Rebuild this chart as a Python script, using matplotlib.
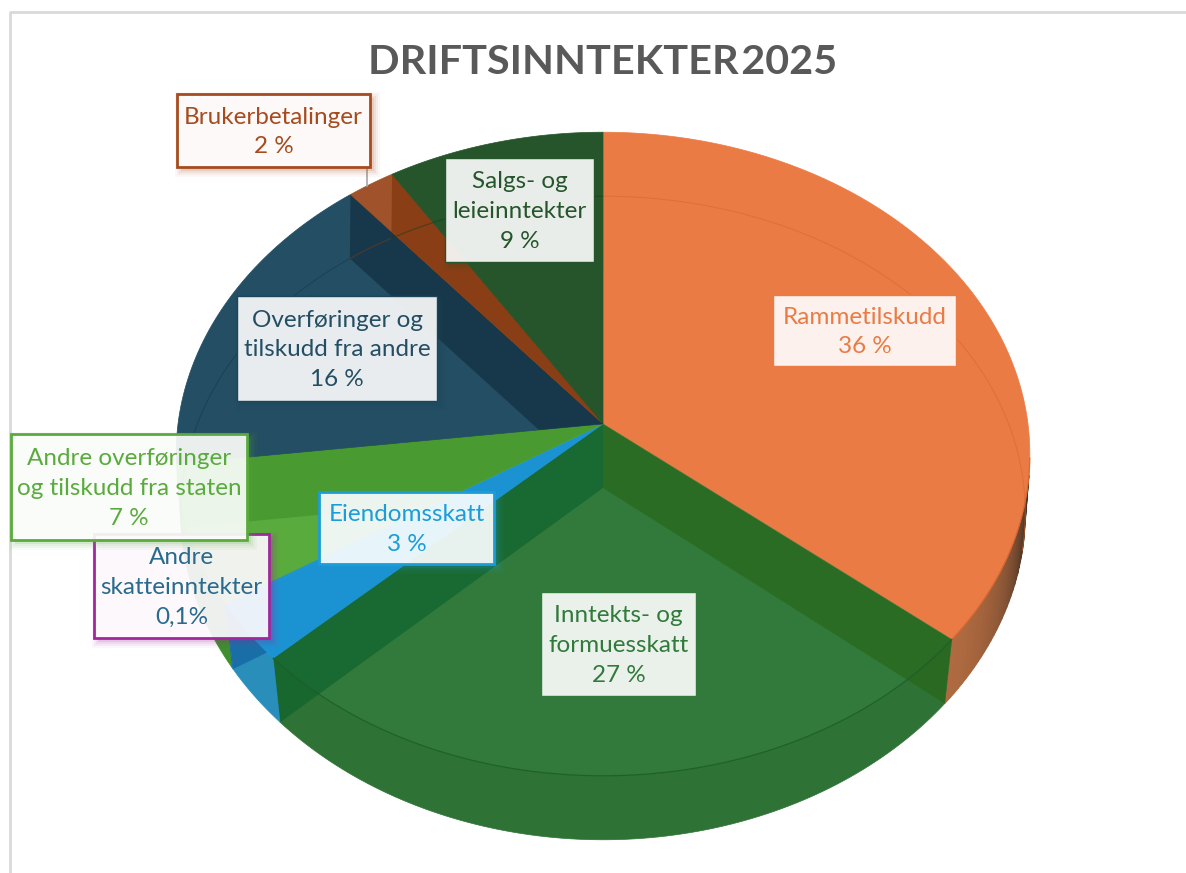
import numpy as np
import matplotlib
matplotlib.use("Agg")
import matplotlib.pyplot as plt
from matplotlib.patches import Polygon, Rectangle
from matplotlib.colors import to_rgb

# ---------- data ----------
title = "DRIFTSINNTEKTER\u200a2025"
categories = ["Rammetilskudd", "Inntekts- og\nformuesskatt", "Eiendomsskatt",
              "Andre\nskatteinntekter", "Andre overføringer\nog tilskudd fra staten",
              "Overføringer og\ntilskudd fra andre", "Brukerbetalinger",
              "Salgs- og\nleieinntekter"]
values = [36, 27, 3, 0.1, 7, 16, 2, 9]
value_labels = ["36\u202f%", "27\u202f%", "3\u202f%", "0,1%", "7\u202f%", "16\u202f%", "2\u202f%", "9\u202f%"]

# ---------- style ----------
top_colors = ["#EB7B45", "#317A3B", "#1B93D2", "#1B93D2", "#5AAB3D", "#234E63", "#A0532B", "#26552B"]
side_colors = ["#B06A40", "#2E7335", "#2A8EBB", "#2A8EBB", "#3F8F2E", "#1F4658", "#8F4A26", "#224C26"]
wall_start = ["#EB7B45", "#25600F", "#0C5095", "#0C5095", "#3A8D27", "#0B2433", "#762B00", "#224C26"]
wall_end = ["#EB7B45", "#035C2B", "#0C5095", "#0C5095", "#3A8D27", "#0B2433", "#762B00", "#224C26"]
rim_colors = ["#D9652F", "#1C5E28", "#17709F", "#17709F", "#3A8D27", "#153A4C", "#7A3A17", "#173D1C"]
text_colors = ["#EB7B45", "#317A3B", "#1B9DD9", "#2A6A8E", "#5AAB3D", "#234E63", "#A64B1E", "#26552B"]
box_edges = ["#EB7B45", "#317A3B", "#1B9DD9", "#A0289C", "#5AAB3D", "#1F4658", "#A64B1E", "#26552B"]
edge_widths = [1, 1, 2, 2, 2, 1, 2, 1]
boxes = [(773, 295, 956, 366), (541, 592, 696, 696), (319, 492, 494, 564),
         (94, 534, 269, 638), (11, 434, 247, 540), (237, 296, 437, 401),
         (177, 94, 370, 167), (445, 158, 594, 262)]
box_order = [0, 1, 2, 3, 4, 5, 6, 7]
FONT = "Lato"
FS = 17.5

# projection of the tilted disc onto the picture
CX, CY_TOP, CY_BOT = 603.0, 424.0, 488.0
A, B_TOP, B_BOT, K_Y, K_X_BOT = 319.0, 425.0, 421.0, 0.0932, 0.077


def rim_top(t):
    u, v = np.sin(t), np.cos(t)
    d = 1 + K_Y * v
    return CX + B_TOP * u / d, CY_TOP - A * v / d


def rim_bot(t):
    u, v = np.sin(t), np.cos(t)
    return CX + B_BOT * u / (1 + K_X_BOT * v), CY_BOT - A * v / (1 + K_Y * v)


fig = plt.figure(figsize=(11.86, 8.73), dpi=100)
ax = fig.add_axes([0, 0, 1, 1])
ax.set_xlim(0, 1186)
ax.set_ylim(873, 0)
ax.axis("off")

# frame of the screenshot
ax.plot([10, 10, 1186], [873, 12, 12], color="#D9D9D9", lw=2, zorder=0)

shares = np.array(values, dtype=float) / np.sum(values)
edges = np.concatenate([[0], np.cumsum(shares)]) * 2 * np.pi
dark = np.array(to_rgb("#3A2A20"))

# outer side strips (only the part that faces the viewer)
strips = {}
for i in range(len(values)):
    ts = np.linspace(edges[i], edges[i + 1], max(3, int(shares[i] * 360)))
    ts = ts[np.cos(ts) < -0.15]
    if len(ts) < 2:
        continue
    xt, yt = rim_top(ts)
    xb, yb = rim_bot(ts)
    strip_pts = np.c_[np.r_[xt, xb[::-1]], np.r_[yt, yb[::-1]]]
    strips[i] = strip_pts
    if i == 0:  # the orange wall fades to dark towards the right
        for j in range(len(ts) - 1):
            f = np.clip((np.cos(ts[j:j + 2].mean()) + 0.64) / 0.49, 0, 1)
            col = np.array(to_rgb(side_colors[i])) * (1 - f ** 1.5) + dark * f ** 1.5
            ax.add_patch(Polygon(np.c_[np.r_[xt[j:j + 2], xb[j:j + 2][::-1]],
                                       np.r_[yt[j:j + 2], yb[j:j + 2][::-1]]], closed=True,
                                 facecolor=col, edgecolor=col, lw=0.8, zorder=2))
    else:
        ax.add_patch(Polygon(strip_pts, closed=True, facecolor=side_colors[i],
                             edgecolor=side_colors[i], lw=0.5, zorder=2))

# top faces
outlines = []
for i in range(len(values)):
    ts = np.linspace(edges[i], edges[i + 1], max(3, int(shares[i] * 360)))
    xt, yt = rim_top(ts)
    xb, yb = rim_bot(ts)
    ax.add_patch(Polygon(np.c_[np.r_[CX, xt], np.r_[CY_TOP, yt]], closed=True,
                         facecolor=top_colors[i], edgecolor=top_colors[i], lw=0.5, zorder=3))
    # invisible outline used to clip the see-through radial walls
    if i in (2, 3):  # the blue wall only shows where it crosses the outer strip
        pts = strips[i]
    elif i in (1, 4):
        pts = [(CX, CY_TOP), (xt[0], yt[0])] + list(zip(xb, yb)) + [(xt[-1], yt[-1])]
    else:
        pts = [(CX, CY_TOP)] + list(zip(xt, yt))
    outline = Polygon(pts, closed=True, facecolor="none", edgecolor="none", zorder=1)
    ax.add_patch(outline)
    outlines.append(outline)

# see-through radial walls
for i in range(len(values)):
    for edge, col in ((edges[i], wall_start[i]), (edges[i + 1], wall_end[i])):
        x1, y1 = rim_top(edge)
        x2, y2 = rim_bot(edge)
        q = Polygon([(CX, CY_TOP), (x1, y1), (x2, y2), (CX, CY_BOT)], closed=True,
                    facecolor=col, edgecolor="none", alpha=0.5, zorder=4)
        ax.add_patch(q)
        q.set_clip_path(outlines[i])

# faint rim lines seen through the disc
for i in range(len(values)):
    ts = np.linspace(edges[i], edges[i + 1], max(3, int(shares[i] * 360)))
    xt, yt = rim_top(ts)
    xb, yb = rim_bot(ts)
    c = np.cos(ts)
    ax.plot(xb[c > -0.2], yb[c > -0.2], color=rim_colors[i], lw=0.8, alpha=0.55, zorder=5)
    if i in (0, 1):
        ax.plot(xt[c < -0.1], yt[c < -0.1], color=rim_colors[i], lw=0.9, alpha=0.9, zorder=5)

# leader line of Brukerbetalinger
ax.plot([367, 367], [167, 186], color="#A6A6A6", lw=1.2, zorder=6)

# title
ax.text(603, 62, title, ha="center", va="center", fontsize=29.8, fontweight="bold",
        color="#595959", family=["Lato", "DejaVu Sans"], zorder=20)

# labels
for z, i in enumerate(box_order):
    x0, y0, x1, y1 = boxes[i]
    base = 10 + z
    for grow, a in ((6, 0.04), (4, 0.06), (2, 0.08), (0, 0.12)):
        ax.add_patch(Rectangle((x0 + 4 - grow, y0 + 4 - grow), x1 - x0 + 2 * grow, y1 - y0 + 2 * grow,
                               facecolor=box_edges[i], edgecolor="none", alpha=a, zorder=base))
    ax.add_patch(Rectangle((x0, y0), x1 - x0, y1 - y0, facecolor=(1, 1, 1, 0.9),
                           edgecolor=box_edges[i], lw=edge_widths[i], zorder=base + 0.1))
    ax.text((x0 + x1) / 2, (y0 + y1) / 2 + 1.5, categories[i] + "\n" + value_labels[i],
            ha="center", va="center", fontsize=FS, color=text_colors[i], linespacing=1.52,
            family=[FONT, "DejaVu Sans"], zorder=base + 0.2)

fig.savefig("out.png", dpi=100)
